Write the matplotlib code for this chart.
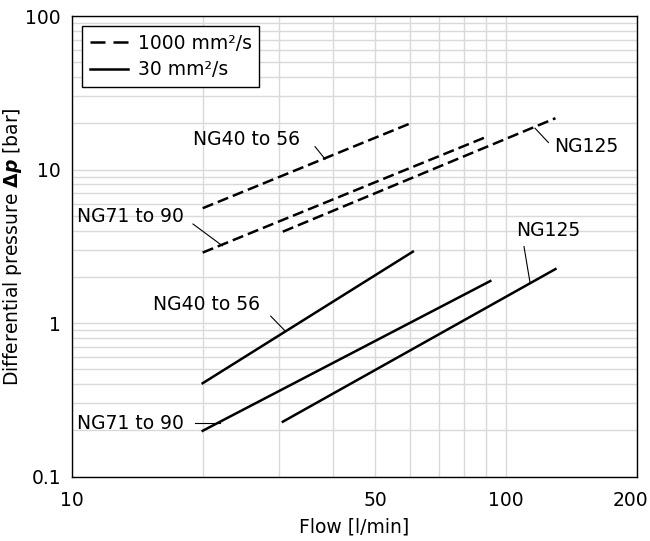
import matplotlib
matplotlib.use("Agg")
import matplotlib.pyplot as plt
import matplotlib.transforms as mtransforms
from matplotlib.lines import Line2D
from matplotlib.ticker import FixedLocator, NullFormatter

# flow [l/min] and differential pressure [bar] at the line ends
flow_ng40 = [20, 61]
flow_ng71_1000 = [20, 89]
flow_ng71_30 = [20, 92]
flow_ng125 = [30.6, 130]

dp_ng40_1000 = [5.6, 20.3]
dp_ng71_1000 = [2.88, 16.1]
dp_ng125_1000 = [3.94, 21.6]

dp_ng40_30 = [0.406, 2.92]
dp_ng71_30 = [0.199, 1.88]
dp_ng125_30 = [0.228, 2.25]

x_ticks = [10, 50, 100, 200]
x_grid = [20, 30, 40, 60, 70, 80, 90]
y_ticks = [0.1, 1, 10, 100]

plt.rcParams["font.family"] = ["DejaVu Sans"]
plt.rcParams["font.size"] = 13.5

fig = plt.figure(figsize=(6.5, 5.41), dpi=100)
ax = fig.add_axes([0.1108, 0.1189, 0.8687, 0.8515])
ax.set_xscale("log")
ax.set_yscale("log")
ax.set_xlim(10, 200)
ax.set_ylim(0.1, 100)

dash = (0, (4.5, 2))
lw = 1.8
ax.plot(flow_ng40, dp_ng40_1000, color="black", lw=lw, ls=dash)
ax.plot(flow_ng71_1000, dp_ng71_1000, color="black", lw=lw, ls=dash)
ax.plot(flow_ng125, dp_ng125_1000, color="black", lw=lw, ls=dash)
ax.plot(flow_ng40, dp_ng40_30, color="black", lw=lw)
ax.plot(flow_ng71_30, dp_ng71_30, color="black", lw=lw)
ax.plot(flow_ng125, dp_ng125_30, color="black", lw=lw)

# labels with thin leader lines
notes = [
    ("NG40 to 56", (38.3, 11.7), (25.3, 15.6), (36.3, 14.1)),
    ("NG71 to 90", (22.2, 3.19), (13.6, 4.93), (19.0, 4.42)),
    ("NG125", (116.6, 18.6), (152.9, 14.1), (125.2, 15.0)),
    ("NG125", (113.6, 1.83), (125, 4.01), (110, 3.15)),
    ("NG40 to 56", (31.1, 0.88), (20.4, 1.33), (28.7, 1.11)),
    ("NG71 to 90", (21.9, 0.223), (13.6, 0.223), (19.2, 0.223)),
]
for txt, tip, pos, start in notes:
    ax.plot([start[0], tip[0]], [start[1], tip[1]], color="black", lw=0.8)
    ax.text(pos[0], pos[1], txt, ha="center", va="center")

ax.xaxis.set_major_locator(FixedLocator(x_ticks))
ax.xaxis.set_minor_locator(FixedLocator(x_grid))
ax.xaxis.set_minor_formatter(NullFormatter())
ax.set_xticklabels([str(v) for v in x_ticks])
ax.yaxis.set_major_locator(FixedLocator(y_ticks))
ax.set_yticklabels(["0.1", "1", "10", "100"])
ax.yaxis.set_minor_formatter(NullFormatter())
ax.tick_params(which="both", length=0)
ax.tick_params(axis="x", pad=10)
ax.tick_params(axis="y", pad=8)

# last x label sits a bit left of its grid line, as in the source
lab = ax.get_xticklabels()[-1]
lab.set_transform(lab.get_transform() + mtransforms.ScaledTranslation(-6 / 100, 0, fig.dpi_scale_trans))

ax.grid(True, which="both", color="#d9d9d9", lw=1.0)
ax.set_axisbelow(True)
for s in ax.spines.values():
    s.set_linewidth(1.0)
    s.set_color("black")

ax.set_xlabel("Flow [l/min]", labelpad=6)
ax.set_ylabel(r"Differential pressure $\boldsymbol{\Delta p}$ [bar]", labelpad=1)

leg_dash = (0, (6, 3.2))
handles = [Line2D([], [], color="black", lw=lw, ls=leg_dash),
           Line2D([], [], color="black", lw=lw)]
leg = ax.legend(handles, ["1000 mm²/s", "30 mm²/s"], loc="upper left", frameon=True,
                fancybox=False, edgecolor="black", framealpha=1, handlelength=2.05,
                borderaxespad=0.55, labelspacing=0.4, handletextpad=0.5, borderpad=0.4)
leg.get_frame().set_linewidth(1.0)

fig.savefig("out.png", dpi=100)
